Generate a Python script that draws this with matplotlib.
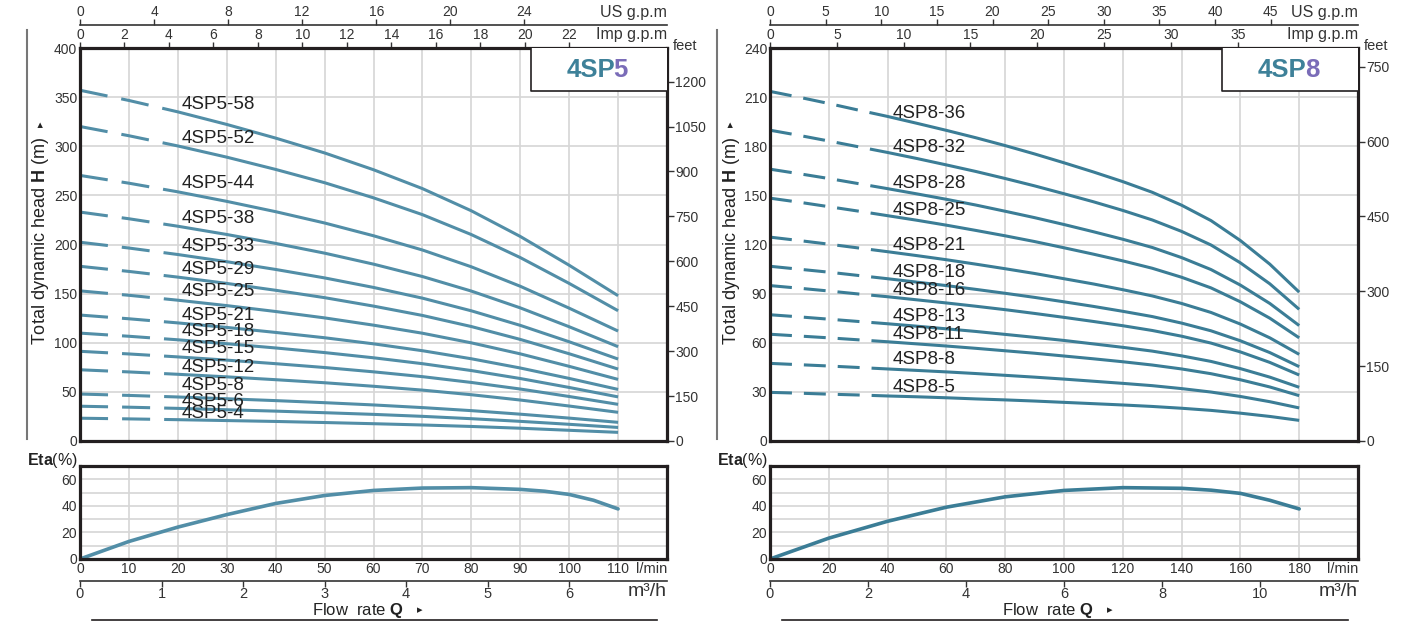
import matplotlib
matplotlib.use("Agg")
import matplotlib.pyplot as plt
from matplotlib import font_manager
from matplotlib.lines import Line2D
from matplotlib.patches import Rectangle

# --------------------------------------------------
#   data : 4SP5  (Q in l/min, H in m)
# --------------------------------------------------
q5 = [0, 10, 20, 30, 40, 50, 60, 70, 80, 90, 100, 110]
h5_58 = [357.0, 346.6, 335.0, 322.2, 308.3, 293.2, 276.1, 256.9, 234.3, 208.2, 178.9, 147.9]
h5_52 = [320.1, 310.7, 300.3, 288.9, 276.4, 262.9, 247.5, 230.4, 210.1, 186.7, 160.4, 132.6]
h5_44 = [270.3, 262.4, 253.6, 243.9, 233.4, 221.9, 208.9, 194.4, 177.3, 157.5, 135.2, 111.9]
h5_38 = [233.0, 226.2, 218.6, 210.2, 201.1, 191.2, 180.0, 167.4, 152.6, 135.5, 116.3, 96.0]
h5_33 = [202.3, 196.4, 189.8, 182.5, 174.6, 166.0, 156.3, 145.4, 132.5, 117.7, 101.0, 83.4]
h5_29 = [177.8, 172.6, 166.8, 160.4, 153.4, 145.9, 137.3, 127.8, 116.5, 103.4, 88.8, 73.2]
h5_25 = [152.8, 148.3, 143.3, 137.8, 131.8, 125.3, 117.9, 109.7, 99.9, 88.7, 76.0, 62.7]
h5_21 = [128.2, 124.4, 120.2, 115.6, 110.5, 105.1, 98.9, 91.9, 83.7, 74.3, 63.7, 52.5]
h5_18 = [109.8, 106.6, 103.0, 99.0, 94.7, 90.0, 84.7, 78.7, 71.7, 63.6, 54.5, 44.9]
h5_15 = [91.3, 88.6, 85.6, 82.3, 78.7, 74.8, 70.4, 65.5, 59.6, 52.9, 45.3, 37.3]
h5_12 = [72.5, 70.3, 67.9, 65.3, 62.4, 59.3, 55.7, 51.8, 47.1, 41.7, 35.6, 29.2]
h5_8 = [47.8, 46.4, 44.8, 43.0, 41.1, 39.0, 36.7, 34.0, 30.9, 27.3, 23.3, 19.0]
h5_6 = [35.4, 34.4, 33.2, 31.8, 30.4, 28.8, 27.1, 25.1, 22.7, 20.0, 17.0, 13.8]
h5_4 = [23.2, 22.5, 21.7, 20.8, 19.9, 18.8, 17.6, 16.3, 14.8, 13.0, 10.9, 8.8]
names5 = ["4SP5-58", "4SP5-52", "4SP5-44", "4SP5-38", "4SP5-33", "4SP5-29", "4SP5-25",
          "4SP5-21", "4SP5-18", "4SP5-15", "4SP5-12", "4SP5-8", "4SP5-6", "4SP5-4"]
curves5 = [h5_58, h5_52, h5_44, h5_38, h5_33, h5_29, h5_25,
           h5_21, h5_18, h5_15, h5_12, h5_8, h5_6, h5_4]
eta5_q = [0, 10, 20, 30, 40, 50, 60, 70, 80, 90, 95, 100, 105, 110]
eta5 = [0, 13.2, 24, 33.4, 41.8, 47.8, 51.6, 53.4, 53.7, 52.4, 51.0, 48.6, 44.2, 37.7]

# --------------------------------------------------
#   data : 4SP8
# --------------------------------------------------
q8 = [0, 10, 20, 30, 40, 50, 60, 70, 80, 90, 100, 110, 120, 130, 140, 150, 160, 170, 180]
h8_36 = [213.5, 209.9, 206.1, 202.1, 198.2, 194.0, 189.7, 185.2, 180.4, 175.3,
         169.9, 164.3, 158.4, 151.9, 144.0, 134.6, 122.4, 108.0, 90.9]
h8_32 = [189.8, 186.6, 183.2, 179.7, 176.2, 172.5, 168.6, 164.6, 160.3, 155.8,
         151.0, 146.1, 140.8, 135.0, 128.0, 119.7, 108.8, 96.0, 80.4]
h8_28 = [166.0, 163.2, 160.3, 157.2, 154.1, 150.9, 147.6, 144.1, 140.3, 136.4,
         132.2, 127.8, 123.2, 118.2, 112.0, 104.7, 95.2, 84.0, 70.5]
h8_25 = [148.3, 145.8, 143.1, 140.4, 137.6, 134.8, 131.8, 128.6, 125.3, 121.8,
         118.0, 114.1, 110.0, 105.5, 100.0, 93.5, 85.0, 75.0, 63.0]
h8_21 = [124.5, 122.4, 120.2, 117.9, 115.6, 113.2, 110.7, 108.0, 105.2, 102.3,
         99.1, 95.9, 92.4, 88.6, 84.0, 78.5, 71.4, 63.0, 52.9]
h8_18 = [106.7, 104.9, 103.1, 101.1, 99.1, 97.0, 94.9, 92.6, 90.2, 87.7,
         85.0, 82.2, 79.2, 76.0, 72.0, 67.3, 61.2, 54.0, 45.4]
h8_16 = [94.9, 93.3, 91.6, 89.8, 88.1, 86.2, 84.3, 82.3, 80.2, 77.9,
         75.5, 73.0, 70.4, 67.5, 64.0, 59.8, 54.4, 48.0, 40.3]
h8_13 = [77.1, 75.8, 74.4, 73.0, 71.6, 70.1, 68.5, 66.9, 65.1, 63.3,
         61.4, 59.3, 57.2, 54.9, 52.0, 48.6, 44.2, 39.0, 32.8]
h8_11 = [65.2, 64.1, 63.0, 61.8, 60.6, 59.3, 58.0, 56.6, 55.1, 53.6,
         51.9, 50.2, 48.4, 46.4, 44.0, 41.1, 37.4, 33.0, 27.7]
h8_8 = [47.4, 46.6, 45.8, 44.9, 44.0, 43.1, 42.2, 41.2, 40.1, 39.0,
        37.8, 36.5, 35.2, 33.8, 32.0, 29.9, 27.2, 24.0, 20.2]
h8_5 = [29.7, 29.2, 28.6, 28.1, 27.5, 27.0, 26.4, 25.7, 25.1, 24.4,
        23.6, 22.8, 22.0, 21.1, 20.0, 18.7, 17.0, 15.0, 12.6]
names8 = ["4SP8-36", "4SP8-32", "4SP8-28", "4SP8-25", "4SP8-21", "4SP8-18",
          "4SP8-16", "4SP8-13", "4SP8-11", "4SP8-8", "4SP8-5"]
curves8 = [h8_36, h8_32, h8_28, h8_25, h8_21, h8_18, h8_16, h8_13, h8_11, h8_8, h8_5]
eta8_q = [0, 20, 40, 60, 80, 100, 120, 140, 150, 160, 170, 180]
eta8 = [0, 15.7, 28.4, 39, 46.8, 51.6, 53.7, 53.2, 51.8, 49.4, 44.2, 37.7]

# label placement (Q, H) for the curve names
lab5_q = 20.7
lab5_h = [343, 307.4, 261.6, 226, 197.5, 175, 151.7, 128.2, 111, 93.7, 75.3, 56, 40.7, 27.5]
lab8_q = 41.8
lab8_h = [200.1, 179.5, 157, 140.6, 119.4, 103, 92, 76.3, 65.3, 49.5, 32.5]

# --------------------------------------------------
#   style
# --------------------------------------------------
fnames = {f.name for f in font_manager.fontManager.ttflist}
narrow = "Liberation Sans Narrow" if "Liberation Sans Narrow" in fnames else "Liberation Sans"

plt.rcParams["font.family"] = ["Liberation Sans", "DejaVu Sans"]
plt.rcParams["mathtext.fontset"] = "custom"
plt.rcParams["mathtext.rm"] = "Liberation Sans"
plt.rcParams["mathtext.bf"] = "Liberation Sans:bold"
plt.rcParams["lines.scale_dashes"] = False

W, H = 1409, 622
fig = plt.figure(figsize=(W / 100, H / 100), dpi=100)

def fx(x):
    return x / W

def fy(y):
    return 1 - y / H

SPINE = "#231f20"
GRID = "#d6d6d6"
TXT = "#333333"

def panel(x0, x1, qmax, qstep, hmax, hstep, ft_ticks, us_ticks, imp_ticks, m3_ticks,
          qlist, curves, cnames, lab_q, lab_h, eq, ev, color, dash, num, line_x):
    w = (x1 - x0) / W
    ax = fig.add_axes([fx(x0), fy(441), w, 393 / H])
    ax.set_xlim(0, qmax)
    ax.set_ylim(0, hmax)
    ax.set_xticks(range(0, qmax + 1, qstep))
    ax.set_yticks(range(0, hmax + 1, hstep))
    ax.tick_params(axis="x", length=0, labelbottom=False)
    ax.tick_params(axis="y", length=0, pad=2, labelsize=10, labelcolor=TXT)
    ax.grid(True, color=GRID, lw=1.2)
    ax.set_axisbelow(True)
    for s in ax.spines.values():
        s.set_linewidth(2.3)
        s.set_color(SPINE)

    for h, name, lh in zip(curves, cnames, lab_h):
        ax.plot(qlist, h, color=color, lw=2.2, linestyle=(0, dash), solid_capstyle="butt",
                dash_capstyle="butt", solid_joinstyle="round")
        ax.text(lab_q, lh, name, fontsize=13.5, color="#222222", va="center", ha="left")

    # title box
    bx = 1 - 136 / (x1 - x0)
    by = 1 - 43 / 393
    ax.add_patch(Rectangle((bx, by), 1 - bx, 1 - by, transform=ax.transAxes,
                           facecolor="white", edgecolor="none", zorder=3))
    ax.plot([bx, bx, 1], [1, by, by], transform=ax.transAxes, color=SPINE, lw=1.2,
            zorder=4, clip_on=False)
    tx = 1 - 100 / (x1 - x0)
    t1 = ax.text(tx, 0.944, "4SP", transform=ax.transAxes, ha="left", va="center",
                 fontsize=18.5, fontweight="bold", color="#3e8199", zorder=5)
    ax.annotate(num, xy=(1, 0.5), xycoords=t1, xytext=(-1.5, 0), textcoords="offset points",
                ha="left", va="center", fontsize=18.5, fontweight="bold",
                color="#7a6cb8", zorder=5)

    # flow scales on top
    imp = ax.secondary_xaxis("top", functions=(lambda q: q / 4.546, lambda g: g * 4.546))
    imp.set_xticks(imp_ticks)
    imp.tick_params(direction="out", length=4, width=1, pad=0.5, labelsize=10,
                    colors=TXT)
    imp.spines["top"].set_visible(False)
    us = ax.secondary_xaxis(1 + 23 / 393, functions=(lambda q: q / 3.785, lambda g: g * 3.785))
    us.set_xticks(us_ticks)
    us.tick_params(direction="out", length=4, width=1, pad=0.5, labelsize=10, colors=TXT)
    us.spines["top"].set_linewidth(1.2)
    us.spines["top"].set_color(TXT)

    feet = ax.secondary_yaxis("right", functions=(lambda m: m * 3.28084, lambda f: f / 3.28084))
    feet.set_yticks(ft_ticks)
    feet.tick_params(direction="out", length=5, width=1, pad=1, labelsize=10, colors=TXT)
    feet.spines["right"].set_visible(False)

    # efficiency
    ae = fig.add_axes([fx(x0), fy(559), w, 93 / H])
    ae.set_xlim(0, qmax)
    ae.set_ylim(0, 70)
    xt = list(range(0, qmax + 1, qstep))
    ae.set_xticks(xt, [str(v) for v in xt[:-1]] + [""])
    ae.set_yticks(range(0, 71, 10), ["0", "", "20", "", "40", "", "60", ""])
    ae.tick_params(length=0, pad=2, labelsize=10, labelcolor=TXT)
    for lab in ae.get_xticklabels() + ae.get_yticklabels():
        lab.set_family(narrow)
    ae.grid(True, color=GRID, lw=1.2)
    ae.set_axisbelow(True)
    for s in ae.spines.values():
        s.set_linewidth(2.3)
        s.set_color(SPINE)
    ae.plot(eq, ev, color=color, lw=2.6, solid_capstyle="round", solid_joinstyle="round")

    m3 = ae.secondary_xaxis(-22 / 93, functions=(lambda q: q * 0.06, lambda m: m / 0.06))
    m3.set_xticks(m3_ticks)
    m3.tick_params(direction="out", length=4, width=1, pad=0.5, labelsize=10.5, colors=TXT)
    for lab in m3.get_xticklabels():
        lab.set_family(narrow)
    m3.spines["bottom"].set_linewidth(1.2)
    m3.spines["bottom"].set_color(TXT)

    # surrounding texts
    fig.text(fx(x1), fy(13), "US g.p.m", ha="right", va="center", fontsize=11.5, color=TXT)
    fig.text(fx(x1), fy(35), "Imp g.p.m", ha="right", va="center", fontsize=11.5, color=TXT)
    fig.text(fx(x1 + 6), fy(46), "feet", ha="left", va="center", fontsize=10.5, color=TXT)
    fig.text(fx(x1), fy(569), "l/min", ha="right", va="center", fontsize=10.5,
             color=TXT, family=narrow)
    fig.text(fx(x1), fy(592), "m³/h", ha="right", va="center", fontsize=14,
             color=TXT, family=narrow)
    fig.text(fx(x0 - 2), fy(461), r"$\mathbf{Eta}$(%)", ha="right", va="center",
             fontsize=11.5, color="#222222")
    fig.text(fx(x0 - 39), fy(241), r"Total dynamic head $\mathbf{H}$ (m)", rotation=90,
             ha="center", va="center", fontsize=13, color="#222222")
    fig.text(fx(x0 - 39), fy(124), "▸", rotation=90, ha="center", va="center",
             fontsize=8, color="#222222", family="DejaVu Sans")
    mid = (x0 + x1) / 2
    fig.text(fx(mid - 62), fy(610), r"Flow  rate $\mathbf{Q}$", ha="left", va="center",
             fontsize=12, color="#222222", family=narrow)
    fig.text(fx(mid + 46), fy(610), "▸", ha="center", va="center", fontsize=8,
             color="#222222", family="DejaVu Sans")
    fig.add_artist(Line2D([fx(x0 + 12), fx(x1 - 10)], [fy(620), fy(620)], color=SPINE, lw=1.2))
    fig.add_artist(Line2D([fx(line_x), fx(line_x)], [fy(30), fy(439)], color="#777777", lw=1.5))

# left : 4SP5
panel(80, 667, 120, 10, 400, 50, range(0, 1201, 150), range(0, 25, 4), range(0, 23, 2),
      range(0, 7), q5, curves5, names5, lab5_q, lab5_h, eta5_q, eta5,
      "#528ea7", (20.2, 10.1, 20.2, 10.1, 3000, 1), "5", 27)

# right : 4SP8
panel(770, 1358, 200, 20, 240, 30, range(0, 751, 150), range(0, 46, 5), range(0, 36, 5),
      range(0, 11, 2), q8, curves8, names8, lab8_q, lab8_h, eta8_q, eta8,
      "#3b7d96", (15.8, 8.6, 15.8, 8.6, 15.8, 8.6, 3000, 1), "8", 717)

fig.savefig("out.png", dpi=100)
